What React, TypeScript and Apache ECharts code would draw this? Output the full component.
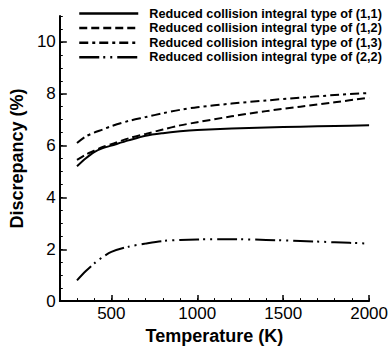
import React, { useEffect, useRef } from "react";
import * as echarts from "echarts";

const temps = [300, 350, 400, 450, 500, 600, 700, 800, 900, 1000, 1200, 1400, 1600, 1800, 2000];
const type11 = [5.2, 5.5, 5.75, 5.9, 6.0, 6.2, 6.38, 6.48, 6.55, 6.6, 6.66, 6.7, 6.73, 6.76, 6.78];
const type12 = [5.45, 5.65, 5.8, 5.95, 6.05, 6.28, 6.45, 6.62, 6.78, 6.9, 7.13, 7.33, 7.5, 7.67, 7.85];
const type13 = [6.1, 6.35, 6.5, 6.62, 6.75, 6.95, 7.1, 7.25, 7.38, 7.48, 7.62, 7.74, 7.85, 7.95, 8.03];
const type22 = [0.8, 1.15, 1.45, 1.7, 1.9, 2.1, 2.22, 2.32, 2.36, 2.38, 2.39, 2.36, 2.32, 2.27, 2.22];

const seriesNames = [
  "Reduced collision integral type of (1,1)",
  "Reduced collision integral type of (1,2)",
  "Reduced collision integral type of (1,3)",
  "Reduced collision integral type of (2,2)",
];
const xTickLabels = [500, 1000, 1500, 2000];
const yTickLabels = [0, 2, 4, 6, 8, 10];

const FONT = "'Liberation Sans', Arial, sans-serif";

export default function App() {
  const ref = useRef<HTMLDivElement>(null);
  useEffect(() => {
    if (!ref.current) return;
    const chart = echarts.init(ref.current, null, { renderer: "svg" });
    const values = [type11, type12, type13, type22];
    const dashes: any[] = ["solid", [8, 4], [9, 4, 3, 4], [20, 4, 2, 5, 2, 5]];
    chart.setOption({
      animation: false,
      textStyle: { fontFamily: FONT },
      grid: { left: 53.3, right: 21, top: 16, bottom: 46, containLabel: false },
      legend: {
        orient: "vertical",
        left: 78,
        top: 7,
        padding: 0,
        itemWidth: 59,
        itemHeight: 14,
        itemGap: 1.6,
        data: seriesNames,
        itemStyle: { opacity: 0 },
        lineStyle: { width: 2.5 },
        textStyle: {
          fontFamily: FONT,
          fontSize: 12.7,
          fontWeight: "bold",
          color: "#000",
          padding: [0, 0, 0, 6],
        },
      },
      xAxis: [
        {
          type: "value",
          min: 200,
          max: 2000,
          interval: 100,
          position: "bottom",
          name: "Temperature (K)",
          nameLocation: "middle",
          nameGap: 21,
          nameTextStyle: { fontFamily: FONT, fontSize: 18, fontWeight: "bold", color: "#000" },
          axisLine: { show: true, lineStyle: { color: "#000", width: 2 } },
          axisTick: { show: true, inside: true, length: 6, customValues: xTickLabels, lineStyle: { color: "#000", width: 1.5 } },
          axisLabel: {
            customValues: xTickLabels,
            formatter: (v: number) => String(v),
            fontFamily: FONT,
            fontSize: 17,
            color: "#000",
            margin: 4,
          },
          splitLine: { show: false },
        },
        {
          type: "value",
          min: 200,
          max: 2000,
          interval: 100,
          position: "bottom",
          axisLine: { show: false },
          axisTick: { show: true, inside: true, length: 3, lineStyle: { color: "#000", width: 1 } },
          axisLabel: { show: false },
          splitLine: { show: false },
        },
      ],
      yAxis: [
        {
          type: "value",
          min: 0,
          max: 11,
          interval: 1,
          position: "left",
          name: "Discrepancy (%)",
          nameLocation: "middle",
          nameGap: 26,
          nameTextStyle: { fontFamily: FONT, fontSize: 18, fontWeight: "bold", color: "#000" },
          axisLine: { show: true, lineStyle: { color: "#000", width: 2 } },
          axisTick: { show: true, inside: true, length: 7, customValues: yTickLabels, lineStyle: { color: "#000", width: 1.5 } },
          axisLabel: {
            customValues: yTickLabels,
            formatter: (v: number) => String(v),
            fontFamily: FONT,
            fontSize: 17,
            color: "#000",
            margin: 4,
          },
          splitLine: { show: false },
        },
        {
          type: "value",
          min: 0,
          max: 11,
          interval: 0.5,
          position: "left",
          offset: 0,
          axisLine: { show: false },
          axisTick: { show: true, inside: true, length: 3, lineStyle: { color: "#000", width: 1 } },
          axisLabel: { show: false },
          splitLine: { show: false },
        },
      ],
      series: values.map((vals, i) => ({
        name: seriesNames[i],
        type: "line",
        xAxisIndex: 0,
        yAxisIndex: 0,
        symbol: "none",
        smooth: 0.3,
        data: temps.map((t, j) => [t, vals[j]]),
        lineStyle: { color: "#000", width: 2, type: dashes[i] },
        itemStyle: { color: "#000" },
      })),
    });
    return () => chart.dispose();
  }, []);
  return (
    <div
      ref={ref}
      style={{ position: "fixed", left: 0, top: 0, width: 391, height: 350, background: "#fff" }}
    />
  );
}
